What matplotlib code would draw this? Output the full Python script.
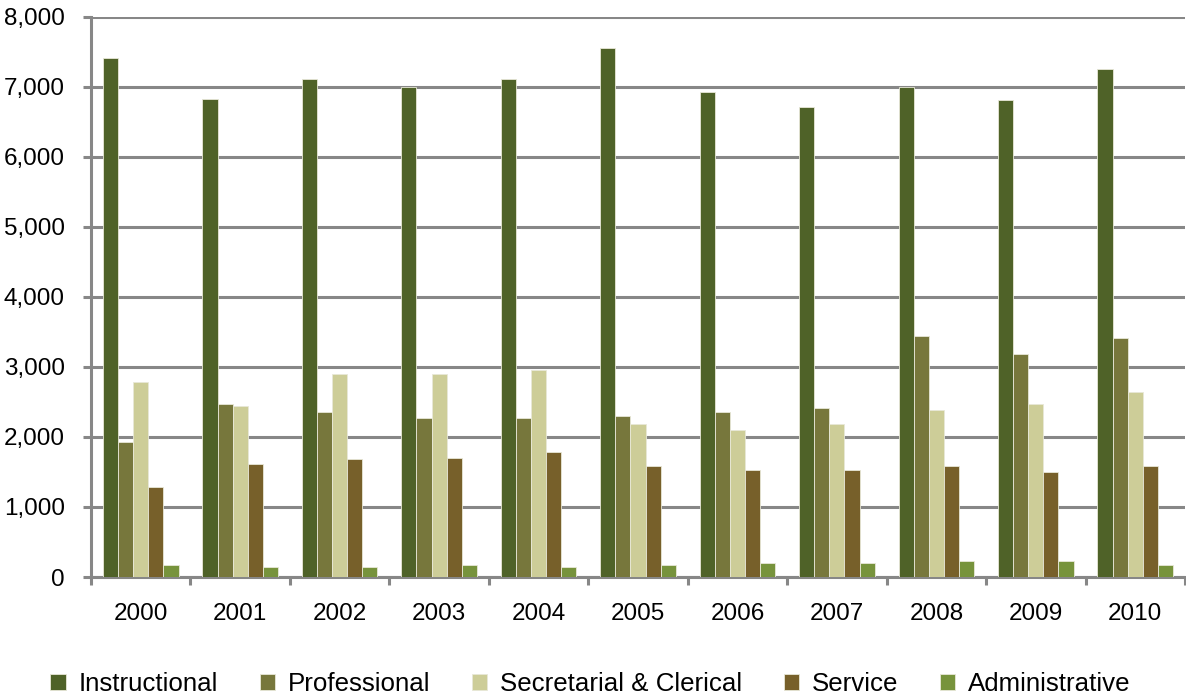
import matplotlib
matplotlib.use("Agg")
import matplotlib.pyplot as plt
import numpy as np
from matplotlib.ticker import FuncFormatter, FixedLocator

years = ["2000", "2001", "2002", "2003", "2004", "2005", "2006", "2007", "2008", "2009", "2010"]
series_names = ["Instructional", "Professional", "Secretarial & Clerical", "Service", "Administrative"]
instructional = [7420, 6830, 7110, 7000, 7110, 7560, 6930, 6710, 7000, 6810, 7260]
professional = [1930, 2470, 2360, 2270, 2270, 2300, 2360, 2410, 3440, 3190, 3410]
secretarial = [2790, 2440, 2900, 2900, 2960, 2190, 2100, 2190, 2390, 2470, 2640]
service = [1280, 1620, 1680, 1700, 1790, 1590, 1530, 1530, 1590, 1500, 1590]
administrative = [167, 140, 140, 167, 140, 167, 195, 195, 230, 230, 170]
colors = ["#4F6228", "#77773C", "#CDCD98", "#77602A", "#77933C"]

plt.rcParams['font.family'] = ['Liberation Sans', 'DejaVu Sans']
fig = plt.figure(figsize=(11.86, 6.96), dpi=100)
ax = fig.add_axes([91/1186, 1-577/696, (1185-91)/1186, (577-17)/696])

data = [instructional, professional, secretarial, service, administrative]
x = np.arange(len(years))
w = 0.152
for i, (vals, c, name) in enumerate(zip(data, colors, series_names)):
    ax.bar(x + (i - 2) * w, vals, width=w, color=c, edgecolor="#E8E8D8", linewidth=0.6,
           label=name, zorder=3)

ax.set_xlim(-0.5, len(years) - 0.5)
ax.set_ylim(0, 8000)
ax.set_yticks(np.arange(0, 8001, 1000))
ax.yaxis.set_major_formatter(FuncFormatter(lambda v, p: f"{int(v):,}"))
ax.grid(axis='y', color='#878787', linewidth=2.2, zorder=0)
ax.set_axisbelow(True)

ax.set_xticks(x)
ax.set_xticklabels(years)
ax.xaxis.set_minor_locator(FixedLocator(np.arange(-0.5, len(years), 1.0)))
ax.tick_params(axis='x', which='major', length=0, labelsize=17.5, pad=19, colors='black')
ax.tick_params(axis='x', which='minor', length=5.8, width=2.2, color='#878787')
ax.tick_params(axis='y', which='major', length=5.8, width=2.2, color='#878787',
               labelsize=17.5, pad=13, labelcolor='black')

for s in ['top', 'right']:
    ax.spines[s].set_visible(False)
for s in ['left', 'bottom']:
    ax.spines[s].set_color('#878787')
    ax.spines[s].set_linewidth(2.2)

leg = fig.legend(loc='center', bbox_to_anchor=(0.498, 1 - 684/696), ncol=5, frameon=False,
                 fontsize=18.6, handlelength=0.6, handleheight=0.6, handletextpad=0.5,
                 columnspacing=1.6, borderpad=0, borderaxespad=0)

fig.savefig("out.png", dpi=100, facecolor='white')
